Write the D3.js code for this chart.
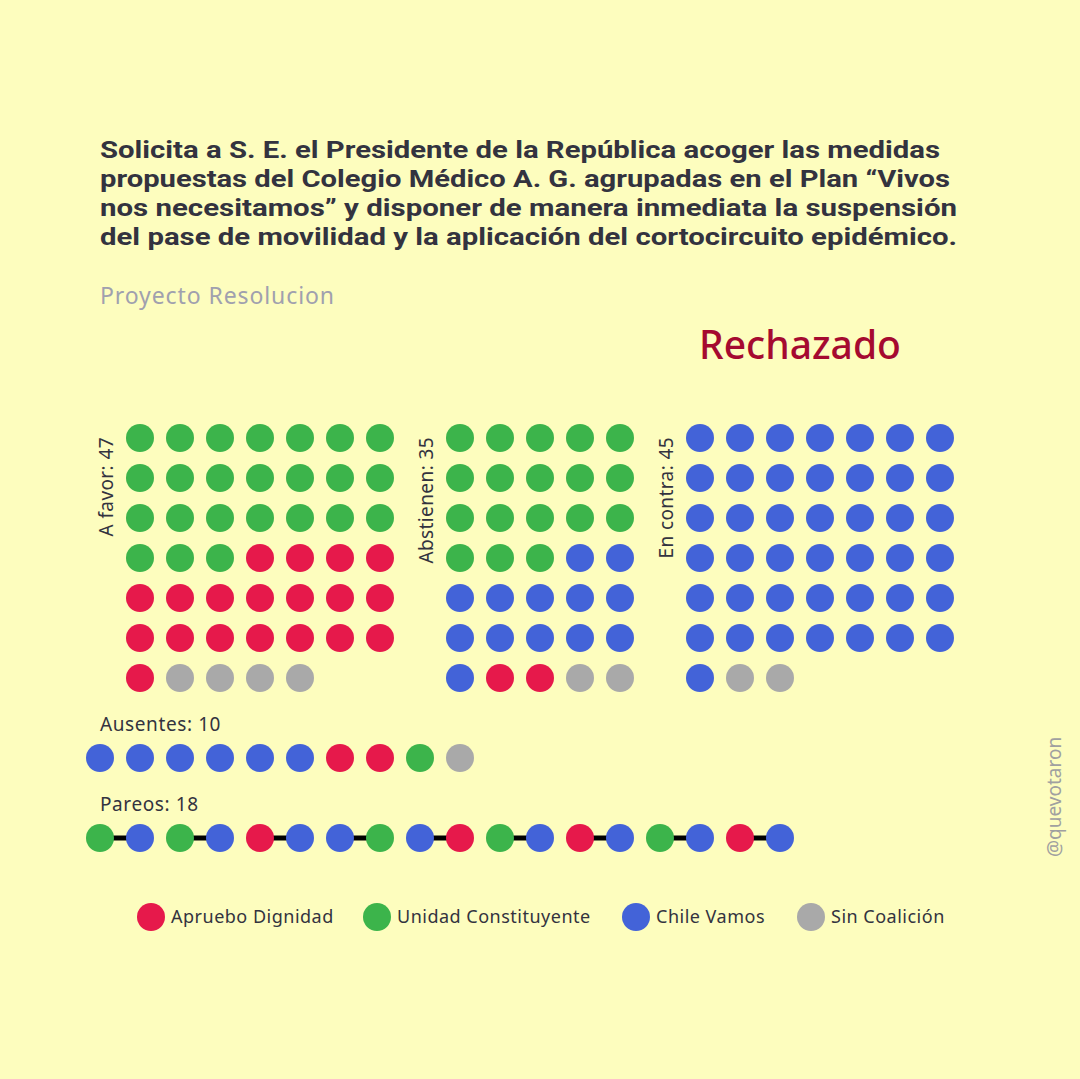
<!DOCTYPE html>
<html><head><meta charset="utf-8">
<script src="https://cdn.jsdelivr.net/npm/d3@7"></script>
<style>html,body{margin:0;padding:0;background:#fdfdbe;}svg{display:block;font-family:"Noto Sans",sans-serif;}</style>
</head><body>
<script>
const titleLines = [
  "Solicita a S. E. el Presidente de la República acoger las medidas",
  "propuestas del Colegio Médico A. G. agrupadas en el Plan “Vivos",
  "nos necesitamos” y disponer de manera inmediata la suspensión",
  "del pase de movilidad y la aplicación del cortocircuito epidémico."
];
const titleWidths = [840, 850, 857, 857];
const subtitle = "Proyecto Resolucion";
const result = "Rechazado";
const coalitions = ["Apruebo Dignidad", "Unidad Constituyente", "Chile Vamos", "Sin Coalición"];
const coalitionColors = ["#e6194b", "#3cb44b", "#4363d8", "#a9a9a9"];
// A = Apruebo Dignidad, U = Unidad Constituyente, C = Chile Vamos, S = Sin Coalición
const aFavor = "UUUUUUU" + "UUUUUUU" + "UUUUUUU" + "UUUAAAA" + "AAAAAAA" + "AAAAAAA" + "ASSSS";
const abstienen = "UUUUU" + "UUUUU" + "UUUUU" + "UUUCC" + "CCCCC" + "CCCCC" + "CAASS";
const enContra = "CCCCCCC".repeat(6) + "CSS";
const ausentes = "CCCCCCAAUS";
const pareos = "UCUCACCUCAUCACUCAC";
const groups = [
  {label: "A favor: 47", seats: aFavor.split(""), cols: 7},
  {label: "Abstienen: 35", seats: abstienen.split(""), cols: 5},
  {label: "En contra: 45", seats: enContra.split(""), cols: 7}
];
const codes = ["A", "U", "C", "S"];

const W = 1080, H = 1079;
const svg = d3.select("body").append("svg").attr("width", W).attr("height", H);
svg.append("rect").attr("width", W).attr("height", H).attr("fill", "#fdfdbe");

const color = d3.scaleOrdinal().domain(codes).range(coalitionColors);
const step = 40, r = 14;
const ink = "#33333f";

// Title
svg.append("g").selectAll("text").data(titleLines).join("text")
  .attr("x", 100).attr("y", (d, i) => 158 + i * 29)
  .attr("font-family", "Roboto, sans-serif")
  .attr("font-size", 24).attr("font-weight", 700).attr("fill", ink)
  .attr("textLength", (d, i) => titleWidths[i]).attr("lengthAdjust", "spacingAndGlyphs")
  .text(d => d);

svg.append("text").attr("x", 100).attr("y", 304).attr("font-size", 23)
  .attr("letter-spacing", 0.9).attr("fill", "#a0a0ae").text(subtitle);

svg.append("text").attr("x", 800).attr("y", 359).attr("text-anchor", "middle")
  .attr("font-size", 39).attr("font-weight", 500).attr("fill", "#a50a30").text(result);

// Grids
const groupX = [140, 460, 700];
const y0 = 438;
groups.forEach((g, gi) => {
  const x = d3.scaleLinear().domain([0, 1]).range([groupX[gi], groupX[gi] + step]);
  const y = d3.scaleLinear().domain([0, 1]).range([y0, y0 + step]);
  const gg = svg.append("g");
  gg.selectAll("circle").data(g.seats).join("circle")
    .attr("cx", (d, i) => x(i % g.cols)).attr("cy", (d, i) => y(Math.floor(i / g.cols)))
    .attr("r", r).attr("fill", d => color(d));
  gg.append("text")
    .attr("transform", `translate(${groupX[gi] - 27},${y0 - 1}) rotate(-90)`)
    .attr("text-anchor", "end").attr("font-size", 19).attr("letter-spacing", 0.4)
    .attr("fill", ink).text(g.label);
});

// Ausentes
const xs = d3.scaleLinear().domain([0, 1]).range([100, 100 + step]);
svg.append("text").attr("x", 100).attr("y", 731).attr("font-size", 19).attr("letter-spacing", 0.6)
  .attr("fill", ink).text("Ausentes: " + ausentes.length);
svg.append("g").selectAll("circle").data(ausentes.split("")).join("circle")
  .attr("cx", (d, i) => xs(i)).attr("cy", 758).attr("r", r).attr("fill", d => color(d));

// Pareos
svg.append("text").attr("x", 100).attr("y", 811).attr("font-size", 19).attr("letter-spacing", 0.6)
  .attr("fill", ink).text("Pareos: " + pareos.length);
const pairs = d3.range(pareos.length / 2);
svg.append("g").selectAll("line").data(pairs).join("line")
  .attr("x1", d => xs(d * 2)).attr("x2", d => xs(d * 2 + 1))
  .attr("y1", 838).attr("y2", 838).attr("stroke", "#000").attr("stroke-width", 5);
svg.append("g").selectAll("circle").data(pareos.split("")).join("circle")
  .attr("cx", (d, i) => xs(i)).attr("cy", 838).attr("r", r).attr("fill", d => color(d));

// Legend
const legendX = [151, 377, 636, 811];
const lg = svg.append("g").selectAll("g").data(coalitions).join("g")
  .attr("transform", (d, i) => `translate(${legendX[i]},917)`);
lg.append("circle").attr("r", r).attr("fill", (d, i) => coalitionColors[i]);
lg.append("text").attr("x", 20).attr("y", 6).attr("font-size", 18).attr("letter-spacing", 0.5)
  .attr("fill", ink).text(d => d);

// Credit
svg.append("text").attr("transform", "translate(1061,857) rotate(-90)")
  .attr("font-size", 19).attr("fill", "#a0a0a0").text("@quevotaron");
</script>
</body></html>
